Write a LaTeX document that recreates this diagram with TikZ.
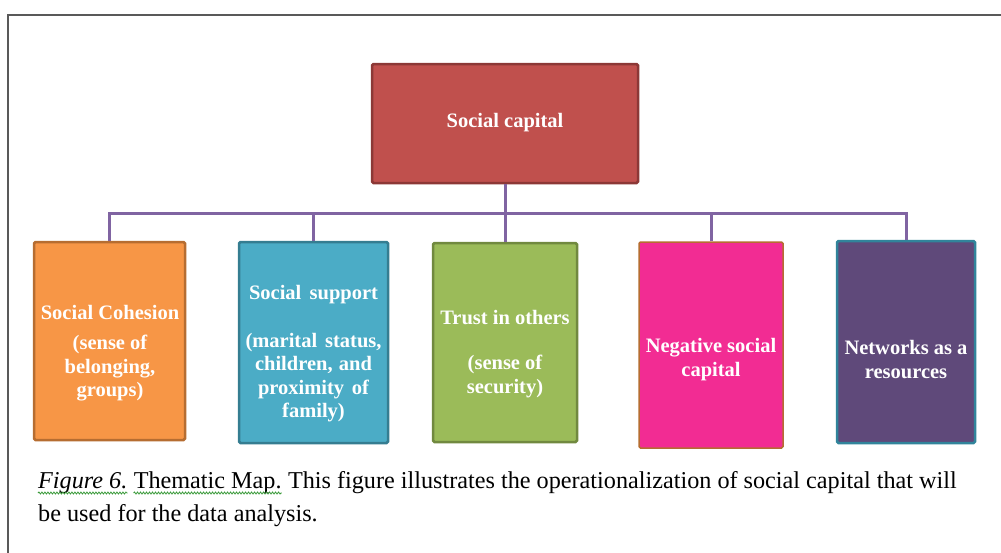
\documentclass[tikz,border=0pt]{standalone}
\usepackage{fontspec}
\setmainfont{Liberation Serif}
\usetikzlibrary{decorations.pathmorphing}

\definecolor{rootfill}{HTML}{C0504D}
\definecolor{rootline}{HTML}{8C3836}
\definecolor{orfill}{HTML}{F79646}
\definecolor{orline}{HTML}{B66D31}
\definecolor{blfill}{HTML}{4BACC6}
\definecolor{blline}{HTML}{357D91}
\definecolor{grfill}{HTML}{9BBB59}
\definecolor{grline}{HTML}{71893F}
\definecolor{pkfill}{HTML}{F22C93}
\definecolor{pkline}{HTML}{B66D31}
\definecolor{pufill}{HTML}{5F497A}
\definecolor{puline}{HTML}{31849B}
\definecolor{busline}{HTML}{8064A2}
\definecolor{frameline}{HTML}{595959}
\definecolor{spellgreen}{HTML}{3A9A3A}

\tikzset{
  box/.style={draw, line width=2.5pt, rounded corners=1.5pt, inner sep=0pt},
  boxtext/.style={text=white, font=\fontsize{20.5}{23.5}\selectfont\bfseries, align=center, inner sep=0pt},
  conn/.style={draw=busline, line width=3pt},
  captext/.style={font=\fontsize{24.2}{28}\selectfont, inner sep=0pt, anchor=base west},
  wavy/.style={draw=spellgreen, line width=0.8pt, decorate, decoration={snake, amplitude=1pt, segment length=3pt}},
}

\begin{document}
\begin{tikzpicture}[x=1pt, y=-1pt]
\useasboundingbox (0,0) rectangle (1001,552);

% outer frame
\draw[frameline, line width=2pt] (8,555) -- (8,15) -- (1004,15);

% boxes
\node[box, draw=rootline, fill=rootfill, minimum width=266pt, minimum height=119pt] (root) at (505,123.5) {};
\node[box, draw=orline, fill=orfill, minimum width=151pt, minimum height=198pt] (c1) at (109.5,341) {};
\node[box, draw=blline, fill=blfill, minimum width=149pt, minimum height=201pt] (c2) at (313.5,342.5) {};
\node[box, draw=grline, fill=grfill, minimum width=144pt, minimum height=199pt] (c3) at (505,342.5) {};
\node[box, draw=pkline, fill=pkfill, line width=1.5pt, minimum width=144pt, minimum height=206pt] (c4) at (711,345) {};
\node[box, draw=puline, fill=pufill, minimum width=138pt, minimum height=202pt] (c5) at (906,342) {};

% connectors
\coordinate (bus) at (0,213);
\draw[conn] (root.south) -- (c3.north);
\draw[conn] (c1.north) -- (c1.north |- bus) -- (c5.north |- bus) -- (c5.north);
\draw[conn] (c2.north) -- (c2.north |- bus);
\draw[conn] (c4.north) -- (c4.north |- bus);

% box texts
\node[boxtext] (t0) at (505,123) {Social capital};
\node[boxtext] (t1a) at (110,312) {Social Cohesion};
\node[boxtext] (t1b) at (110,368.5) {(sense of\\belonging,\\groups)};
\node[boxtext] (t2a) at (313.5,295) {\makebox[129pt][s]{Social support}};
\node[boxtext] (t2b) at (313.5,377.5) {\makebox[136pt][s]{(marital status,}\\\makebox[117pt][s]{children, and}\\\makebox[111pt][s]{proximity of}\\family)};
\node[boxtext] (t3a) at (505,318) {Trust in others};
\node[boxtext] (t3b) at (505,376.5) {(sense of\\security)};
\node[boxtext] (t4) at (711,359.5) {Negative social\\capital};
\node[boxtext] (t5) at (906,359.5) {Networks as a\\resources};

% caption
\node[captext] (capA) at (38,488) {\textit{Figure 6.}};
\node[captext] (capB) at ([xshift=6pt]capA.base east) {Thematic Map.};
\node[captext] (capC) at ([xshift=6pt]capB.base east) {This figure illustrates the operationalization of social capital that will};
\node[captext] (capD) at (38,521) {be used for the data analysis.};
\path[wavy] ([yshift=-5pt]capA.base west) -- ([yshift=-5pt]capA.base east);
\path[wavy] ([yshift=-5pt]capB.base west) -- ([yshift=-5pt]capB.base east);
\end{tikzpicture}
\end{document}
